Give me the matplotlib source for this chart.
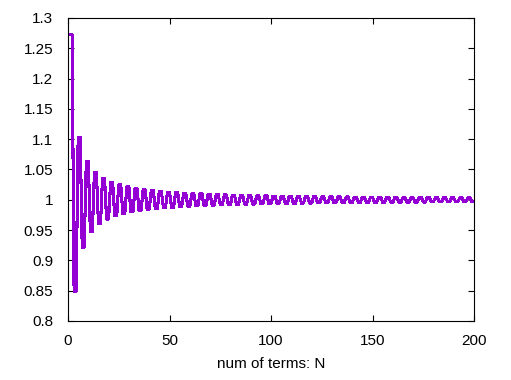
import numpy as np
import matplotlib
matplotlib.use("Agg")
import matplotlib.pyplot as plt

plt.rcParams['font.family'] = ['Liberation Sans', 'DejaVu Sans']

# partial sums (normalised), one value per odd harmonic; even harmonics add nothing
partial_sums = [
    1.2732, 0.8488, 1.1035, 0.9216, 1.0631, 0.9473, 1.0452, 0.9604, 1.0353, 0.9683,
    1.0289, 0.9735, 1.0245, 0.9773, 1.0212, 0.9801, 1.0187, 0.9823, 1.0167, 0.9841,
    1.0152, 0.9855, 1.0138, 0.9867, 1.0127, 0.9878, 1.0118, 0.9886, 1.0110, 0.9894,
    1.0103, 0.9901, 1.0096, 0.9906, 1.0091, 0.9912, 1.0086, 0.9916, 1.0082, 0.9920,
    1.0078, 0.9924, 1.0074, 0.9928, 1.0071, 0.9931, 1.0068, 0.9934, 1.0065, 0.9936,
    1.0062, 0.9939, 1.0060, 0.9941, 1.0058, 0.9943, 1.0056, 0.9945, 1.0054, 0.9947,
    1.0052, 0.9949, 1.0051, 0.9950, 1.0049, 0.9952, 1.0048, 0.9953, 1.0046, 0.9955,
    1.0045, 0.9956, 1.0044, 0.9957, 1.0042, 0.9958, 1.0041, 0.9959, 1.0040, 0.9960,
    1.0039, 0.9961, 1.0038, 0.9962, 1.0037, 0.9963, 1.0037, 0.9964, 1.0036, 0.9965,
    1.0035, 0.9965, 1.0034, 0.9966, 1.0034, 0.9967, 1.0033, 0.9968, 1.0032, 0.9968,
]
num_terms = np.arange(1, 201)
values = np.repeat(partial_sums, 2)

x_ticks = [0, 50, 100, 150, 200]
y_ticks = [0.8, 0.85, 0.9, 0.95, 1.0, 1.05, 1.1, 1.15, 1.2, 1.25, 1.3]
y_labels = ['0.8', '0.85', '0.9', '0.95', '1', '1.05', '1.1', '1.15', '1.2', '1.25', '1.3']

fig = plt.figure(figsize=(5.11, 3.80), dpi=100)
ax = fig.add_axes([68 / 511, 59 / 380, 406 / 511, 303 / 380])

ax.plot(num_terms, values, color='#9400D3', lw=1.5, antialiased=False)

ax.set_xlim(0, 200)
ax.set_ylim(0.8, 1.3)
ax.set_xticks(x_ticks)
ax.set_yticks(y_ticks)
ax.set_yticklabels(y_labels)
ax.tick_params(direction='in', length=4, width=0.8, top=True, right=True,
               labelsize=11, colors='black')
ax.tick_params(axis='y', pad=10.5)
ax.tick_params(axis='x', pad=9.5)
for s in ax.spines.values():
    s.set_linewidth(0.8)

ax.set_xlabel('num of terms: N', fontsize=11, labelpad=6)

fig.savefig('out.png', dpi=100)
